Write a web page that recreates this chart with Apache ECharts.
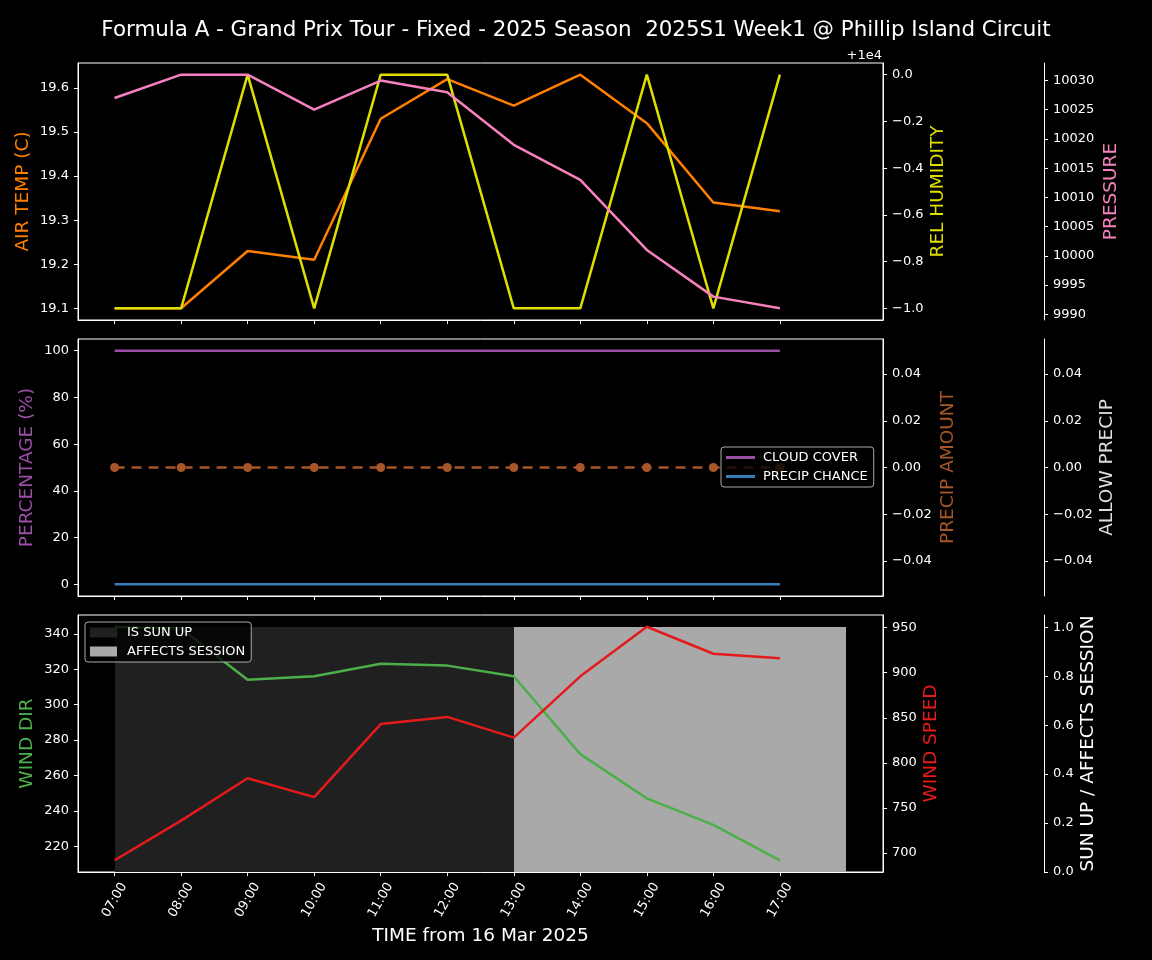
<!DOCTYPE html>
<html>
<head>
<meta charset="utf-8">
<script src="https://cdn.jsdelivr.net/npm/echarts@6/dist/echarts.min.js"></script>
<style>html,body{margin:0;padding:0;background:#000;}#main{width:1152px;height:960px;}</style>
</head>
<body>
<div id="main"></div>
<script>
// ---- data ----
const hours = ['07:00','08:00','09:00','10:00','11:00','12:00','13:00','14:00','15:00','16:00','17:00'];
const airTemp = [19.10, 19.10, 19.23, 19.21, 19.53, 19.62, 19.56, 19.63, 19.52, 19.34, 19.32];
const relHumidity = [9999, 9999, 10000, 9999, 10000, 10000, 9999, 9999, 10000, 9999, 10000];
const pressure = [10027, 10031, 10031, 10025, 10030, 10028, 10019, 10013, 10001, 9993, 9991];
const cloudCover = [100,100,100,100,100,100,100,100,100,100,100];
const precipChance = [0,0,0,0,0,0,0,0,0,0,0];
const precipAmount = [0,0,0,0,0,0,0,0,0,0,0];
const windDir = [344, 343, 314, 316, 323, 322, 316, 272, 247, 232, 212];
const windSpeed = [692, 736, 783, 762, 843, 851, 828, 896, 951, 921, 916];
const isSunUp = [1,1,1,1,1,1,1,1,1,1,1];
const affectsSession = [0,0,0,0,0,0,1,1,1,1,1];

const tempTicks = [19.1, 19.2, 19.3, 19.4, 19.5, 19.6];
const humTicks = [-1.0, -0.8, -0.6, -0.4, -0.2, 0.0].map(v => 10000 + v);
const presTicks = [9990, 9995, 10000, 10005, 10010, 10015, 10020, 10025, 10030];
const pctTicks = [0, 20, 40, 60, 80, 100];
const precTicks = [-0.04, -0.02, 0, 0.02, 0.04];
const dirTicks = [220, 240, 260, 280, 300, 320, 340];
const spdTicks = [700, 750, 800, 850, 900, 950];
const sunTicks = [0, 0.2, 0.4, 0.6, 0.8, 1.0];

const FONT = 'DejaVu Sans';
const TICK_FS = 13;
const NAME_FS = 18.5;
const pair = arr => arr.map((v, i) => [i, v]);
const minus = s => s.replace('-', '\u2212');
const hourIdx = hours.map((h, i) => i);

function xAxis(gi, showLabels, name) {
  return {
    type: 'value', gridIndex: gi, min: -0.55, max: 11.55,
    splitLine: {show: false},
    axisLine: {show: true, onZero: false, lineStyle: {color: '#fff', width: 1}},
    axisTick: {show: true, customValues: hourIdx, length: 4, lineStyle: {color: '#fff'}},
    axisLabel: {show: showLabels, customValues: hourIdx, formatter: v => hours[Math.round(v)],
      rotate: 60, align: 'center', verticalAlign: 'middle', margin: 28,
      color: '#fff', fontSize: TICK_FS, fontFamily: FONT},
    name: name || '', nameLocation: 'middle', nameGap: 55, nameMoveOverlap: false,
    nameTextStyle: {color: '#fff', fontSize: NAME_FS, fontFamily: FONT}
  };
}
function yAxis(gi, pos, offset, min, max, ticks, fmt, name, nameColor, nameGap) {
  return {
    type: 'value', gridIndex: gi, position: pos, offset: offset, min: min, max: max,
    splitLine: {show: false},
    axisLine: {show: true, onZero: false, lineStyle: {color: '#fff', width: 1}},
    axisTick: {show: true, customValues: ticks, length: 4, lineStyle: {color: '#fff'}},
    axisLabel: {customValues: ticks, formatter: fmt, color: '#fff', fontSize: TICK_FS, fontFamily: FONT, margin: 9},
    name: name, nameLocation: 'middle', nameGap: nameGap, nameMoveOverlap: false,
    nameTextStyle: {color: nameColor, fontSize: NAME_FS, fontFamily: FONT}
  };
}
function line(name, data, xi, yi, color, extra) {
  return Object.assign({
    name: name, type: 'line', xAxisIndex: xi, yAxisIndex: yi, data: pair(data),
    showSymbol: false, symbol: 'none', z: 3,
    lineStyle: {color: color, width: 2.5}, itemStyle: {color: color}
  }, extra || {});
}
function blocks(name, data, color) {
  return {
    name: name, type: 'custom', xAxisIndex: 2, yAxisIndex: 8, z: 1,
    itemStyle: {color: color},
    data: pair(data),
    renderItem: function (params, api) {
      const x0 = api.value(0), v = api.value(1);
      if (!v) return null;
      const p0 = api.coord([x0, v]);
      const p1 = api.coord([x0 + 1, 0]);
      const xa = Math.round(p0[0]), xb = Math.round(p1[0]);
      const ya = Math.round(p0[1]), yb = Math.round(p1[1]);
      return {type: 'rect', shape: {x: xa, y: ya, width: xb - xa, height: yb - ya},
        style: {fill: color, stroke: null}};
    }
  };
}

const gridBase = {left: 78, right: 269, height: 257, show: true, borderColor: '#fff', borderWidth: 1, backgroundColor: 'transparent'};
const option = {
  backgroundColor: '#000',
  animation: false,
  title: {text: 'Formula A - Grand Prix Tour - Fixed - 2025 Season  2025S1 Week1 @ Phillip Island Circuit',
    left: 'center', top: 15, textStyle: {color: '#fff', fontSize: 21.4, fontWeight: 'normal', fontFamily: FONT}},
  grid: [Object.assign({top: 63}, gridBase), Object.assign({top: 339}, gridBase), Object.assign({top: 615}, gridBase)],
  xAxis: [xAxis(0, false), xAxis(1, false), xAxis(2, true, 'TIME from 16 Mar 2025')],
  yAxis: [
    yAxis(0, 'left', 0, 19.0735, 19.6565, tempTicks, v => v.toFixed(1), 'AIR TEMP (C)', '#ff7f00', 45),
    yAxis(0, 'right', 0, 9998.95, 10000.05, humTicks, v => minus((v - 10000).toFixed(1)), 'REL HUMIDITY', '#dede00', 46),
    yAxis(0, 'right', 161, 9989, 10033, presTicks, v => String(Math.round(v)), 'PRESSURE', '#f781bf', 58),
    yAxis(1, 'left', 0, -5, 105, pctTicks, v => String(Math.round(v)), 'PERCENTAGE (%)', '#984ea3', 41),
    yAxis(1, 'right', 0, -0.055, 0.055, precTicks, v => minus(v.toFixed(2)), 'PRECIP AMOUNT', '#a65628', 56),
    yAxis(1, 'right', 161, -0.055, 0.055, precTicks, v => minus(v.toFixed(2)), 'ALLOW PRECIP', '#dddddd', 54),
    yAxis(2, 'left', 0, 205.4, 350.6, dirTicks, v => String(Math.round(v)), 'WIND DIR', '#4daf4a', 41),
    yAxis(2, 'right', 0, 679, 964, spdTicks, v => String(Math.round(v)), 'WIND SPEED', '#e41a1c', 39),
    yAxis(2, 'right', 161, 0, 1.05, sunTicks, v => v.toFixed(1), 'SUN UP / AFFECTS SESSION', '#ffffff', 35)
  ],
  legend: [
    {data: ['CLOUD COVER', 'PRECIP CHANCE'], left: 721, top: 447, orient: 'vertical',
      icon: 'rect', itemWidth: 29, itemHeight: 3, itemGap: 6,
      backgroundColor: 'rgba(0,0,0,0.8)', borderColor: '#aaa', borderWidth: 1, borderRadius: 3,
      padding: [4, 6, 4, 5], selectedMode: false,
      textStyle: {color: '#fff', fontSize: 13, fontFamily: FONT, padding: [0, 0, 0, 3]}},
    {data: ['IS SUN UP', 'AFFECTS SESSION'], left: 85, top: 622, orient: 'vertical',
      icon: 'rect', itemWidth: 27, itemHeight: 10, itemGap: 6,
      backgroundColor: 'rgba(0,0,0,0.8)', borderColor: '#aaa', borderWidth: 1, borderRadius: 3,
      padding: [4, 6, 4, 5], selectedMode: false,
      textStyle: {color: '#fff', fontSize: 13, fontFamily: FONT, padding: [0, 0, 0, 5]}}
  ],
  graphic: [{type: 'text', right: 1152 - 882, top: 49,
    style: {text: '+1e4', fill: '#fff', font: '13px "DejaVu Sans"', textAlign: 'right'}}],
  series: [
    line('AIR TEMP', airTemp, 0, 0, '#ff7f00'),
    line('REL HUMIDITY', relHumidity, 0, 1, '#dede00'),
    line('PRESSURE', pressure, 0, 2, '#f781bf'),
    line('CLOUD COVER', cloudCover, 1, 3, '#984ea3'),
    line('PRECIP CHANCE', precipChance, 1, 3, '#377eb8'),
    line('PRECIP AMOUNT', precipAmount, 1, 4, '#a65628', {
      showSymbol: true, symbol: 'circle', symbolSize: 9,
      lineStyle: {color: '#a65628', width: 2.5, type: [10, 7]}}),
    blocks('IS SUN UP', isSunUp, '#202020'),
    blocks('AFFECTS SESSION', affectsSession, '#a9a9a9'),
    line('WIND DIR', windDir, 2, 6, '#4daf4a'),
    line('WIND SPEED', windSpeed, 2, 7, '#e41a1c')
  ]
};
const chart = echarts.init(document.getElementById('main'), null, {renderer: 'canvas'});
chart.setOption(option);
</script>
</body>
</html>
